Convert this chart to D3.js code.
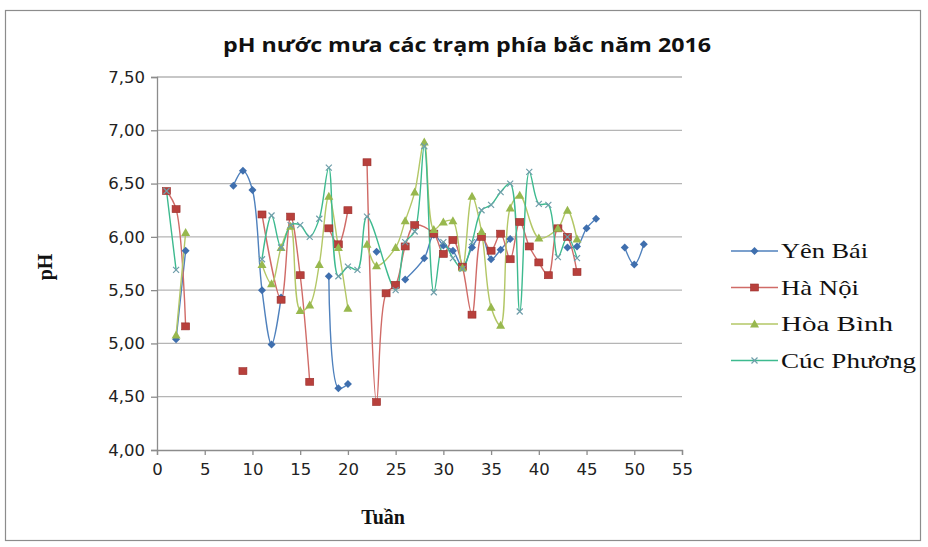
<!DOCTYPE html>
<html><head><meta charset="utf-8">
<script src="https://cdn.jsdelivr.net/npm/d3@7"></script>
<style>body{margin:0;background:#fff}</style>
</head><body>
<svg id="c" width="928" height="547"></svg>
<script>
// ---- data (null = break in line) ----
const title = "pH nước mưa các trạm phía bắc năm 2016";
const seriesNames = ["Yên Bái", "Hà Nội", "Hòa Bình", "Cúc Phương"];
const xTicks = [0,5,10,15,20,25,30,35,40,45,50,55];
const yTicks = [4.0,4.5,5.0,5.5,6.0,6.5,7.0,7.5];

const ybWeeks  = [2,3,null,8,9,10,11,12,13,null,18,19,20,null,23,null,26,28,29,30,31,32,33,34,35,36,37,null,43,44,45,46,null,49,50,51];
const ybValues = [5.04,5.87,null,6.48,6.62,6.44,5.50,4.99,5.43,null,5.63,4.58,4.62,null,5.86,null,5.60,5.80,6.02,5.92,5.87,5.72,5.90,6.02,5.79,5.88,5.98,null,5.90,5.91,6.08,6.17,null,5.90,5.74,5.93];

const hnWeeks  = [1,2,3,null,9,null,11,13,14,15,16,null,18,19,20,null,22,23,24,25,26,27,29,30,31,32,33,34,35,36,37,38,39,40,41,42,43,44];
const hnValues = [6.43,6.26,5.16,null,4.74,null,6.21,5.41,6.19,5.64,4.64,null,6.08,5.93,6.25,null,6.70,4.45,5.47,5.55,5.91,6.11,6.03,5.84,5.97,5.72,5.27,6.00,5.87,6.03,5.79,6.14,5.91,5.76,5.64,6.08,6.00,5.67];

const hbWeeks  = [2,3,null,11,12,13,14,15,16,17,18,19,20,null,22,23,25,26,27,28,29,30,31,32,33,34,35,36,37,38,40,42,43,44];
const hbValues = [5.08,6.04,null,5.74,5.56,5.90,6.10,5.31,5.36,5.74,6.38,5.90,5.33,null,5.93,5.73,5.90,6.15,6.42,6.89,6.07,6.14,6.15,5.71,6.38,6.05,5.34,5.17,6.27,6.39,5.99,6.08,6.25,5.98];

const cpWeeks  = [1,2,null,11,12,13,14,15,16,17,18,19,20,21,22,25,26,27,28,29,30,31,32,33,34,35,36,37,38,39,40,41,42,43,44];
const cpValues = [6.43,5.69,null,5.79,6.20,5.90,6.11,6.11,6.00,6.17,6.65,5.63,5.72,5.69,6.19,5.50,5.95,6.05,6.85,5.48,5.95,5.80,5.70,5.95,6.25,6.30,6.42,6.50,5.30,6.61,6.31,6.30,5.81,6.00,5.80];

// ---- styles ----
const lineColors = ["#4f81bd","#d06b67","#b3c766","#3dba8f"];
const markColors = ["#3f6fae","#b8403c","#98b84e","#6f9eaa"];
const shapes = ["diamond","square","triangle","x"];
const legendWidths = [87, 78, 112, 135];

const svg = d3.select("#c");
svg.append("rect").attr("x",5.5).attr("y",10.5).attr("width",915).attr("height",530)
  .attr("fill","#fff").attr("stroke","#8c8c8c").attr("stroke-width",1.2);

const L=157, R=682, T=77, B=450;
const x = d3.scaleLinear().domain([0,55]).range([L,R]);
const y = d3.scaleLinear().domain([4,7.5]).range([B,T]);

svg.append("g").selectAll("line").data(yTicks.slice(1)).join("line")
  .attr("x1",L).attr("x2",R).attr("y1",d=>y(d)).attr("y2",d=>y(d))
  .attr("stroke","#b5b5b5").attr("stroke-width",1.3);

const fmt = d => d.toFixed(2).replace(".", ",");
const yAxis = svg.append("g").attr("transform",`translate(${L},0)`)
  .call(d3.axisLeft(y).tickValues(yTicks).tickFormat(fmt).tickSize(6).tickPadding(6));
const xAxis = svg.append("g").attr("transform",`translate(0,${B})`)
  .call(d3.axisBottom(x).tickValues(xTicks).tickSize(5).tickPadding(8));
[yAxis,xAxis].forEach(a=>{
  a.select(".domain").attr("stroke","#8c8c8c").attr("stroke-width",1.3);
  a.selectAll(".tick line").attr("stroke","#8c8c8c").attr("stroke-width",1.3);
  a.selectAll("text").attr("font-family","DejaVu Sans, Verdana, sans-serif").attr("font-size",16.5).attr("fill","#222");
});

svg.append("text").attr("x",467).attr("y",52).attr("text-anchor","middle")
  .attr("font-family","Open Sans, Noto Sans, sans-serif").attr("font-weight","bold").attr("font-size",20)
  .attr("textLength",488).attr("lengthAdjust","spacingAndGlyphs").attr("fill","#111").text(title);
svg.append("text").attr("transform","translate(52,267) rotate(-90)").attr("text-anchor","middle")
  .attr("font-family","Liberation Serif, Times New Roman, serif").attr("font-weight","bold").attr("font-size",20).attr("fill","#111").text("pH");
svg.append("text").attr("x",383).attr("y",524).attr("text-anchor","middle")
  .attr("font-family","Liberation Serif, Times New Roman, serif").attr("font-weight","bold").attr("font-size",20).attr("fill","#111").text("Tuần");

const series = [[ybWeeks,ybValues],[hnWeeks,hnValues],[hbWeeks,hbValues],[cpWeeks,cpValues]]
  .map(([w,v],i)=>({name:seriesNames[i], i, pts:w.map((wk,k)=>({w:wk,v:v[k]}))}));

function marker(g, shape, i, cx, cy){
  if(shape==="diamond"){
    g.append("path").attr("d",`M${cx},${cy-4}L${cx+4},${cy}L${cx},${cy+4}L${cx-4},${cy}Z`).attr("fill",markColors[i]);
  } else if(shape==="square"){
    g.append("rect").attr("x",cx-4).attr("y",cy-3.5).attr("width",8).attr("height",7).attr("fill",markColors[i]).attr("stroke","#9a2f2c").attr("stroke-width",0.6);
  } else if(shape==="triangle"){
    g.append("path").attr("d",`M${cx},${cy-4.5}L${cx+4.5},${cy+3.5}L${cx-4.5},${cy+3.5}Z`).attr("fill",markColors[i]);
  } else {
    g.append("path").attr("d",`M${cx-3},${cy-3}L${cx+3},${cy+3}M${cx+3},${cy-3}L${cx-3},${cy+3}`).attr("stroke",markColors[i]).attr("stroke-width",1.2);
  }
}

const line = d3.line().defined(d=>d.v!==null).x(d=>x(d.w)).y(d=>y(d.v)).curve(d3.curveCatmullRom.alpha(0.5));
const plot = svg.append("g");
series.forEach(s=>{
  plot.append("path").datum(s.pts).attr("d",line).attr("fill","none")
    .attr("stroke",lineColors[s.i]).attr("stroke-width",1.4);
});
series.forEach(s=>{
  const g = plot.append("g");
  s.pts.filter(d=>d.v!==null).forEach(d=>marker(g, shapes[s.i], s.i, x(d.w), y(d.v)));
});

const lg = svg.append("g");
seriesNames.forEach((n,i)=>{
  const ly = 251 + i*36.5;
  lg.append("line").attr("x1",731).attr("x2",778).attr("y1",ly).attr("y2",ly).attr("stroke",lineColors[i]).attr("stroke-width",1.4);
  marker(lg, shapes[i], i, 754.5, ly);
  lg.append("text").attr("x",781).attr("y",ly+7).attr("font-family","Liberation Serif, Times New Roman, serif")
    .attr("font-size",21).attr("textLength",legendWidths[i]).attr("lengthAdjust","spacingAndGlyphs")
    .attr("fill","#111").text(n);
});
</script>
</body></html>
